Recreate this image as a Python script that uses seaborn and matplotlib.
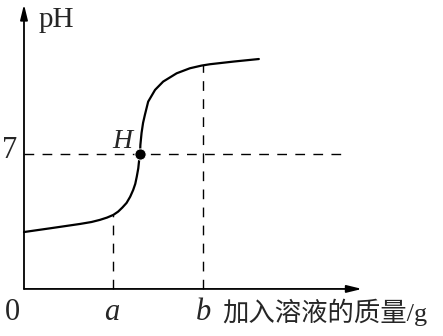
import matplotlib
matplotlib.use("Agg")
import matplotlib.pyplot as plt
import seaborn as sns
import pandas as pd

# Curve: mass of added solution (x) vs pH (y)
mass = [0.0, 0.9, 1.87, 2.25, 2.53, 2.77, 2.98, 3.14, 3.28, 3.42, 3.54, 3.64, 3.71, 3.76, 3.81, 3.84,
        3.87, 3.88, 3.92, 3.97, 4.03, 4.14, 4.37, 4.64, 5.09, 5.53, 5.92, 6.2, 7.0, 7.83]
ph = [2.95, 3.15, 3.37, 3.47, 3.58, 3.70, 3.84, 4.01, 4.22, 4.46, 4.78, 5.13, 5.45, 5.82, 6.25, 6.69,
      7.0, 7.46, 8.09, 8.61, 9.02, 9.71, 10.32, 10.75, 11.18, 11.44, 11.58, 11.65, 11.79, 11.92]

point_h = (3.87, 7.0)     # point H
a_val, ph_a = 2.98, 3.84  # x = a
b_val, ph_b = 5.97, 11.6  # x = b
ph7 = 7

x_labels = ["0", "a", "b"]
x_label_text = "加入溶液的质量/g"
y_label_text = "pH"

sns.set_style("white")
plt.rcParams["font.family"] = ["Liberation Serif", "Noto Sans CJK SC"]

fig = plt.figure(figsize=(4.43, 3.36), dpi=100)
ax = fig.add_axes([0, 0, 1, 1])
ax.set_xlim(-0.8, 13.97)
ax.set_ylim(-2.44, 14.98)
ax.axis("off")

df = pd.DataFrame({"mass": mass, "ph": ph})
sns.lineplot(data=df, x="mass", y="ph", sort=False, color="black", lw=1.6, ax=ax)

# dashed guides
dash = dict(color="black", lw=1.0, dashes=(7, 6))
ax.plot([0, 10.77], [ph7, ph7], **dash)
ax.plot([a_val, a_val], [0, ph_a], **dash)
ax.plot([b_val, b_val], [0, ph_b], **dash)

# point H
sns.scatterplot(x=[point_h[0]], y=[point_h[1]], color="black", s=65, ax=ax, zorder=5)

# axes with arrows
arr = dict(arrowstyle="-|>,head_length=0.9,head_width=0.22", lw=1.3, color="black",
           shrinkA=0, shrinkB=0)
ax.annotate("", xy=(11.27, 0), xytext=(0, 0), arrowprops=arr)
ax.annotate("", xy=(0, 14.75), xytext=(0, 0), arrowprops=arr)

# labels
ax.text(0.47, 13.58, y_label_text, fontsize=21, ha="left", va="baseline")
ax.text(-0.47, 6.79, "7", fontsize=22, ha="center", va="baseline")
ax.text(-0.4, -1.61, x_labels[0], fontsize=22, ha="center", va="baseline")
ax.text(a_val - 0.05, -1.61, x_labels[1], fontsize=22, ha="center", va="baseline", style="italic")
ax.text(b_val, -1.61, x_labels[2], fontsize=22, ha="center", va="baseline", style="italic")
ax.text(3.27, 7.31, "H", fontsize=20, ha="center", va="baseline", style="italic")
ax.text(6.6, -1.65, x_label_text, fontsize=19, ha="left", va="baseline",
        family=["Liberation Serif", "Noto Sans CJK SC"])

fig.savefig("out.png", dpi=100)
